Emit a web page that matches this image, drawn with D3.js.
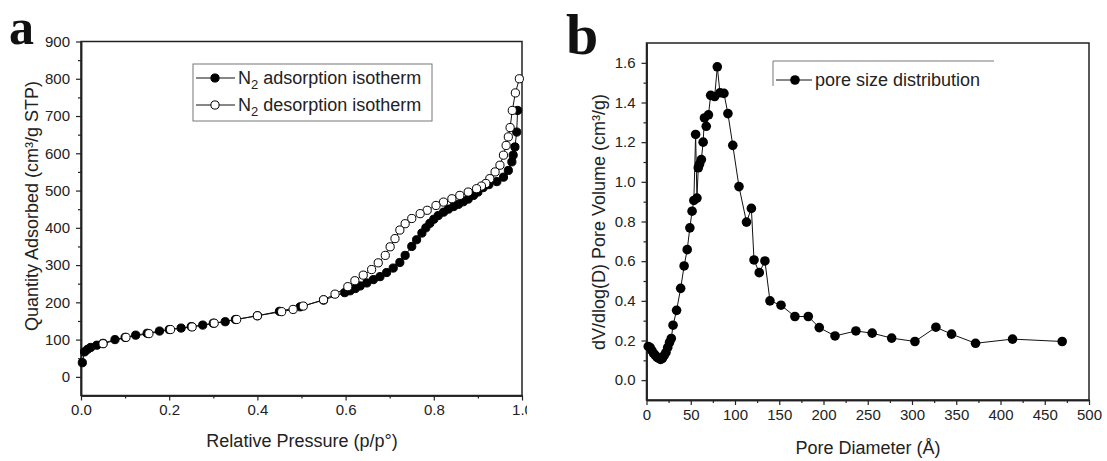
<!DOCTYPE html>
<html lang="en">
<head>
<meta charset="UTF-8">
<title>N2 isotherm and pore size distribution</title>
<script src="https://d3js.org/d3.v7.min.js"></script>
<style>
    body { margin: 0; background: #fff; }
    svg text { font-family: "Liberation Sans", Arial, sans-serif; fill: #222; }
    .axis path, .axis line { stroke: #222; }
    .axis path { stroke-width: 1.5; }
    .axis text { font-size: 15px; font-family: "Liberation Sans", Arial, sans-serif; fill: #222; }
</style>
</head>
<body>
<div id="chart"></div>
<script>
// panel a: N2 isotherm, [relative pressure, quantity adsorbed]
const adsorption = [
    [0.003, 38], [0.008, 67], [0.015, 74], [0.022, 79], [0.036, 85], [0.05, 90], [0.077, 100],
    [0.1, 106], [0.124, 112], [0.15, 117], [0.178, 123], [0.2, 127], [0.227, 131], [0.25, 135],
    [0.276, 139], [0.3, 144], [0.327, 148], [0.35, 154], [0.4, 164], [0.45, 176], [0.497, 188],
    [0.55, 206], [0.598, 226], [0.61, 231], [0.622, 237], [0.633, 244], [0.648, 252], [0.663, 261],
    [0.678, 269], [0.693, 280], [0.708, 292], [0.723, 307], [0.735, 326], [0.75, 350], [0.761, 368],
    [0.773, 386], [0.782, 400], [0.791, 412], [0.8, 423], [0.81, 433], [0.822, 442], [0.833, 450],
    [0.845, 457], [0.856, 463], [0.867, 470], [0.878, 477], [0.89, 487], [0.9, 496], [0.912, 508],
    [0.925, 516], [0.943, 524], [0.958, 536], [0.969, 554], [0.977, 577], [0.98, 595],
    [0.984, 617], [0.988, 657], [0.99, 715]
];
const desorption = [
    [0.994, 800], [0.985, 762], [0.978, 715], [0.973, 669], [0.969, 644], [0.964, 621],
    [0.958, 595], [0.95, 568], [0.939, 550], [0.927, 532], [0.918, 519], [0.908, 512],
    [0.897, 505], [0.878, 496], [0.859, 487], [0.841, 478], [0.822, 469], [0.805, 460],
    [0.785, 447], [0.769, 438], [0.75, 425], [0.735, 411], [0.723, 394], [0.712, 371],
    [0.701, 349], [0.69, 326], [0.674, 306], [0.659, 288], [0.64, 273], [0.621, 258],
    [0.605, 242], [0.576, 222], [0.55, 207], [0.504, 190], [0.481, 181], [0.455, 175],
    [0.4, 164], [0.353, 154], [0.302, 144], [0.252, 134], [0.203, 127], [0.154, 116],
    [0.102, 106], [0.05, 89]
];
const isoXTicks = [0, 0.2, 0.4, 0.6, 0.8, 1.0];
const isoYTicks = [0, 100, 200, 300, 400, 500, 600, 700, 800, 900];

// panel b: pore size distribution, [pore diameter (A), dV/dlog(D)]
const poreDist = [
    [2, 0.17], [4, 0.165], [6, 0.15], [8, 0.135], [10, 0.125], [12, 0.115], [14, 0.11],
    [16, 0.105], [18, 0.11], [20, 0.125], [22, 0.14], [24, 0.165], [26, 0.19], [28, 0.21],
    [30, 0.277], [34, 0.352], [38.6, 0.463], [42.5, 0.576], [46, 0.658], [49, 0.768],
    [51.5, 0.852], [53.5, 0.906], [55.5, 1.239], [57, 0.918], [58.5, 1.071], [60, 1.09],
    [62, 1.112], [64, 1.2], [65.5, 1.322], [67.5, 1.28], [70, 1.338], [72.5, 1.436],
    [77, 1.43], [80, 1.58], [83, 1.449], [87.5, 1.446], [92, 1.344], [97.5, 1.184],
    [104.5, 0.976], [113, 0.797], [118.5, 0.866], [121.5, 0.606], [127.4, 0.542],
    [133.8, 0.601], [139.5, 0.4], [152, 0.378], [167.7, 0.321], [182.8, 0.321],
    [195.2, 0.265], [213, 0.223], [236.6, 0.248], [255, 0.237], [277, 0.212],
    [303.3, 0.195], [327, 0.267], [344.7, 0.232], [371.8, 0.186], [413.6, 0.207],
    [469.7, 0.195]
];
const poreXTicks = [0, 50, 100, 150, 200, 250, 300, 350, 400, 450, 500];
const poreYTicks = [0, 0.2, 0.4, 0.6, 0.8, 1.0, 1.2, 1.4, 1.6];

const W = 1107, H = 461;
const svg = d3.select("#chart").append("svg")
    .attr("width", W).attr("height", H);

// clip so that the last x label of panel a is cut like in the figure
svg.append("defs").append("clipPath").attr("id", "clipA")
    .append("rect").attr("x", 0).attr("y", 0).attr("width", 527).attr("height", H);

// helper: draws frame, major + minor ticks
function drawAxes(g, x, y, xt, yt, xMinor, yMinor, xFmt, yFmt) {
    const [x0, x1] = x.range(), [y0, y1] = y.range();
    g.append("g").attr("class", "axis")
        .attr("transform", "translate(0," + y0 + ")")
        .call(d3.axisBottom(x).tickValues(xt).tickFormat(xFmt).tickSize(5).tickSizeOuter(0).tickPadding(4));
    g.append("g").attr("class", "axis")
        .attr("transform", "translate(0," + y0 + ")")
        .call(d3.axisBottom(x).tickValues(xMinor).tickFormat("").tickSize(3).tickSizeOuter(0));
    g.append("g").attr("class", "axis")
        .attr("transform", "translate(" + x0 + ",0)")
        .call(d3.axisLeft(y).tickValues(yt).tickFormat(yFmt).tickSize(5).tickSizeOuter(0).tickPadding(6));
    g.append("g").attr("class", "axis")
        .attr("transform", "translate(" + x0 + ",0)")
        .call(d3.axisLeft(y).tickValues(yMinor).tickFormat("").tickSize(3).tickSizeOuter(0));
    g.selectAll(".axis line").attr("stroke-width", 1.2);
    // box
    g.append("rect")
        .attr("x", x0).attr("y", y1)
        .attr("width", x1 - x0).attr("height", y0 - y1)
        .attr("fill", "none").attr("stroke", "#222").attr("stroke-width", 1.5);
}

// ---------- panel a ----------
const ga = svg.append("g").attr("clip-path", "url(#clipA)");
const xa = d3.scaleLinear().domain([0, 1]).range([81, 522]);
const ya = d3.scaleLinear().domain([-50, 900]).range([395.5, 41.5]);

drawAxes(ga, xa, ya, isoXTicks, isoYTicks,
    d3.range(0.1, 1, 0.2), d3.range(-50, 900, 100).filter(v => v > -50),
    d3.format(".1f"), d3.format("d"));

const lineA = d3.line().x(d => xa(d[0])).y(d => ya(d[1]));
ga.append("path").datum(adsorption)
    .attr("d", lineA).attr("fill", "none").attr("stroke", "#111").attr("stroke-width", 1);
ga.append("path").datum(desorption)
    .attr("d", lineA).attr("fill", "none").attr("stroke", "#111").attr("stroke-width", 1);

ga.selectAll(".ads").data(adsorption).enter().append("circle")
    .attr("class", "ads")
    .attr("cx", d => xa(d[0])).attr("cy", d => ya(d[1])).attr("r", 4.1)
    .attr("fill", "#000").attr("stroke", "#000");
ga.selectAll(".des").data(desorption).enter().append("circle")
    .attr("class", "des")
    .attr("cx", d => xa(d[0])).attr("cy", d => ya(d[1])).attr("r", 4.1)
    .attr("fill", "#fff").attr("stroke", "#000").attr("stroke-width", 1);

ga.append("text")
    .attr("x", 302).attr("y", 447)
    .attr("text-anchor", "middle").style("font-size", "18px")
    .text("Relative Pressure (p/p°)");
ga.append("text")
    .attr("transform", "translate(38,206) rotate(-90)")
    .attr("text-anchor", "middle").style("font-size", "18px")
    .text("Quantity Adsorbed (cm³/g STP)");

// legend a
const legA = ga.append("g");
legA.append("rect").attr("x", 193).attr("y", 64).attr("width", 239).attr("height", 57)
    .attr("fill", "#fff").attr("stroke", "#777").attr("stroke-width", 1);
[["adsorption", "#000", 78], ["desorption", "#fff", 105]].forEach(function (r) {
    legA.append("line").attr("x1", 196).attr("x2", 235).attr("y1", r[2]).attr("y2", r[2])
        .attr("stroke", "#111").attr("stroke-width", 1);
    legA.append("circle").attr("cx", 215).attr("cy", r[2]).attr("r", 4.1)
        .attr("fill", r[1]).attr("stroke", "#000");
    const t = legA.append("text").attr("x", 238).attr("y", r[2] + 6).style("font-size", "18px");
    t.append("tspan").text("N");
    t.append("tspan").attr("dy", 5).style("font-size", "13px").text("2");
    t.append("tspan").attr("dy", -5).text(" " + r[0] + " isotherm");
});

svg.append("text").attr("x", 9).attr("y", 44)
    .style("font-family", "'Liberation Serif', 'DejaVu Serif', serif")
    .style("font-weight", "bold").style("font-size", "50px").style("fill", "#111")
    .text("a");

// ---------- panel b ----------
const gb = svg.append("g");
const xb = d3.scaleLinear().domain([0, 500]).range([646.5, 1089]);
const yb = d3.scaleLinear().domain([-0.1, 1.7]).range([400, 43]);

drawAxes(gb, xb, yb, poreXTicks, poreYTicks,
    d3.range(25, 500, 50), d3.range(-0.1, 1.7, 0.2).filter(v => v > -0.05),
    d3.format("d"), d3.format(".1f"));

const lineB = d3.line().x(d => xb(d[0])).y(d => yb(d[1]));
gb.append("path").datum(poreDist)
    .attr("d", lineB).attr("fill", "none").attr("stroke", "#111").attr("stroke-width", 1);
gb.selectAll(".pore").data(poreDist).enter().append("circle")
    .attr("class", "pore")
    .attr("cx", d => xb(d[0])).attr("cy", d => yb(d[1])).attr("r", 4.8)
    .attr("fill", "#000");

gb.append("text")
    .attr("x", 868).attr("y", 454)
    .attr("text-anchor", "middle").style("font-size", "18px")
    .text("Pore Diameter (Å)");
gb.append("text")
    .attr("transform", "translate(605,222) rotate(-90)")
    .attr("text-anchor", "middle").style("font-size", "18px")
    .text("dV/dlog(D) Pore Volume (cm³/g)");

// legend b (only top and left edge of the box show)
const legB = gb.append("g");
legB.append("line").attr("x1", 773).attr("x2", 994).attr("y1", 61).attr("y2", 61)
    .attr("stroke", "#777");
legB.append("line").attr("x1", 773).attr("x2", 773).attr("y1", 61).attr("y2", 86)
    .attr("stroke", "#777");
legB.append("line").attr("x1", 776).attr("x2", 812).attr("y1", 80).attr("y2", 80)
    .attr("stroke", "#111");
legB.append("circle").attr("cx", 795).attr("cy", 80).attr("r", 4.8).attr("fill", "#000");
legB.append("text").attr("x", 815).attr("y", 80).attr("dy", "0.32em")
    .style("font-size", "18px").text("pore size distribution");

svg.append("text").attr("x", 566).attr("y", 54)
    .style("font-family", "'Liberation Serif', 'DejaVu Serif', serif")
    .style("font-weight", "bold").style("font-size", "58px").style("fill", "#111")
    .text("b");
</script>
</body>
</html>
